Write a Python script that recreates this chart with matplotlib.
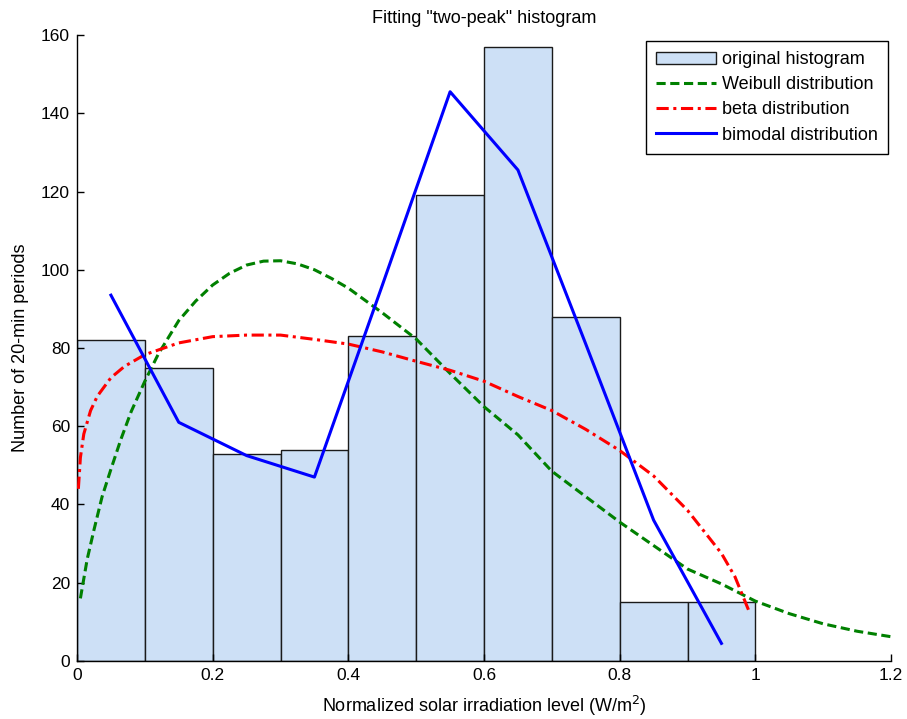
import matplotlib
matplotlib.use("Agg")
import matplotlib.pyplot as plt
import numpy as np

plt.rcParams["font.family"] = ["Liberation Sans", "DejaVu Sans"]

# histogram of normalized irradiation (bin width 0.1)
bin_edges = [0.0, 0.1, 0.2, 0.3, 0.4, 0.5, 0.6, 0.7, 0.8, 0.9, 1.0]
counts = [82, 75, 53, 54, 83, 119, 157, 88, 15, 15]

# fitted Weibull curve
weib_x = [0.005, 0.015, 0.025, 0.037, 0.05, 0.065, 0.08, 0.1, 0.12, 0.15,
          0.175, 0.2, 0.225, 0.25, 0.275, 0.3, 0.325, 0.35, 0.375, 0.4,
          0.45, 0.5, 0.55, 0.6, 0.65, 0.7, 0.75, 0.8, 0.85, 0.9, 0.95,
          1.0, 1.05, 1.1, 1.15, 1.2]
weib_y = [16, 26, 33.5, 42, 49, 56.8, 63.8, 71.5, 78.5, 87,
          92, 96.1, 99.1, 101.2, 102.2, 102.3, 101.5, 100, 97.8, 95.3,
          89, 82.3, 73.5, 65, 57.8, 48.5, 42, 35.5, 29.5, 23.5, 19.7,
          15.3, 12.1, 9.5, 7.6, 6.2]

# fitted beta curve
beta_x = [0.002, 0.005, 0.01, 0.02, 0.03, 0.05, 0.07, 0.1, 0.15, 0.2, 0.25,
          0.3, 0.35, 0.4, 0.45, 0.5, 0.55, 0.6, 0.65, 0.7, 0.75, 0.8,
          0.85, 0.9, 0.925, 0.95, 0.97, 0.99]
beta_y = [44, 52, 58, 64, 67.7, 72.4, 75.3, 78.3, 81.3, 82.9, 83.3,
          83.3, 82.2, 81, 79, 76.6, 74.3, 71.5, 67.6, 64, 59.2, 53.8,
          47.3, 38.5, 33, 27.5, 21.5, 13]

# bimodal fit evaluated at bin centres
bimod_x = [0.05, 0.15, 0.25, 0.35, 0.45, 0.55, 0.65, 0.75, 0.85, 0.95]
bimod_y = [93.5, 61, 52.5, 47, 96, 145.5, 125.5, 81, 36, 4.5]

fig = plt.figure(figsize=(9.07, 7.19), dpi=100)
ax = fig.add_axes([0.0849, 0.0807, 0.8975, 0.8706])

widths = np.diff(bin_edges)
bars = ax.bar(bin_edges[:-1], counts, width=widths, align="edge",
              color="#cde0f6", edgecolor="#1a1a1a", linewidth=1.0,
              label="original histogram", zorder=1)
l_w, = ax.plot(weib_x, weib_y, color="#008000", lw=2.2, dashes=(3, 1.5),
               label="Weibull distribution", zorder=3)
l_b, = ax.plot(beta_x, beta_y, color="#ff0000", lw=2.2, dashes=(4, 1.5, 1, 1.5),
               label="beta distribution", zorder=3)
l_m, = ax.plot(bimod_x, bimod_y, color="#0000ff", lw=2.2,
               label="bimodal distribution", zorder=4)

ax.set_xlim(0, 1.2)
ax.set_ylim(0, 160)
ax.set_xticks([0, 0.2, 0.4, 0.6, 0.8, 1.0, 1.2])
ax.set_xticklabels(["0", "0.2", "0.4", "0.6", "0.8", "1", "1.2"])
ax.set_yticks(range(0, 161, 20))
ax.tick_params(direction="in", length=5, width=1, labelsize=12.5, pad=5)
for s in ("top", "right"):
    ax.spines[s].set_visible(False)
for s in ("left", "bottom"):
    ax.spines[s].set_linewidth(1.0)

ax.set_xlabel("Normalized solar irradiation level (W/m$^2$)", fontsize=13, labelpad=8)
ax.set_ylabel("Number of 20-min periods", fontsize=13, labelpad=9)
ax.set_title('Fitting "two-peak" histogram', fontsize=13, pad=9)

leg = ax.legend(handles=[bars, l_w, l_b, l_m],
                loc="upper right", bbox_to_anchor=(0.996, 0.99),
                borderaxespad=0, fontsize=13, frameon=True, fancybox=False,
                framealpha=1, edgecolor="black", handlelength=3.3,
                handletextpad=0.35, labelspacing=0.45, borderpad=0.55)
leg.get_frame().set_linewidth(1.0)

fig.savefig("out.png", dpi=100)
